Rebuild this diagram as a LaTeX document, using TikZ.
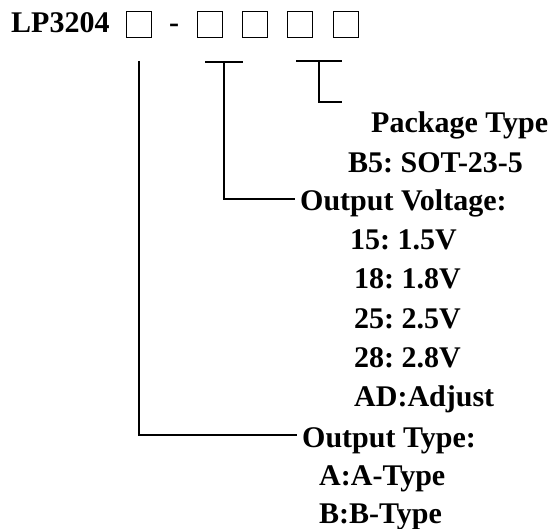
\documentclass[tikz,border=0pt]{standalone}
\usepackage{fontspec}
\setmainfont{Liberation Serif}
\usepackage{tikz}
\usetikzlibrary{
    positioning
}
\frenchspacing
\tikzstyle{txt} = [
    inner sep=0pt,
    anchor=base west,
    text height=24pt,
    text depth=0pt,
    font=\fontsize{30}{35}\selectfont\bfseries
]
\tikzstyle{sq} = [
    rectangle, draw,
    line width=1.4pt,
    inner sep=0pt,
    minimum width=25.5pt,
    minimum height=25.5pt
]
\tikzstyle{wire} = [
    line width=1.4pt
]

\begin{document}
\begin{tikzpicture}[
	x=1pt, y=-1pt
]
\useasboundingbox (0,0) rectangle (551,529);

\node (title) [txt] at (11,33) {LP3204};
\node (box1) [sq] at (139,24.5) {};
\node (dash) [txt, anchor=base] at (174,33) {-};
\node (box2) [sq] at (210,24.5) {};
\node (box3) [sq] at (255,24.5) {};
\node (box4) [sq] at (300,24.5) {};
\node (box5) [sq] at (346,24.5) {};

\node (pkg)   [txt] at (371,133) {Package Type};
\node (pkgB5) [txt] at (348,173) {B5: SOT-23-5};
\node (volt)  [txt] at (300,211) {Output Voltage:};
\node (v15)   [txt] at (350,250) {15: 1.5V};
\node (v18)   [txt] at (354,288) {18: 1.8V};
\node (v25)   [txt] at (354,328) {25: 2.5V};
\node (v28)   [txt] at (354,367) {28: 2.8V};
\node (vAD)   [txt] at (354,406) {AD:Adjust};
\node (otype) [txt] at (302,447) {Output Type:};
\node (tA)    [txt] at (319,485) {A:A-Type};
\node (tB)    [txt] at (319,523) {B:B-Type};

% Klammern unter den Kästchen
\coordinate (vtopL) at (205,62);
\coordinate (vtopR) at (243,62);
\coordinate (vtop) at (224,62);
\coordinate (ptopL) at (296,61);
\coordinate (ptopR) at (342,61);
\coordinate (ptop) at (319,61);
\coordinate (pend) at (342,102);

\draw [wire, shorten >=5pt] ([yshift=-23pt]box1.south) |- (otype.west);
\draw [wire] (vtopL) -- (vtopR);
\draw [wire, shorten >=5pt] (vtop) |- (volt.west);
\draw [wire] (ptopL) -- (ptopR);
\draw [wire] (ptop) |- (pend);

\end{tikzpicture}
\end{document}
